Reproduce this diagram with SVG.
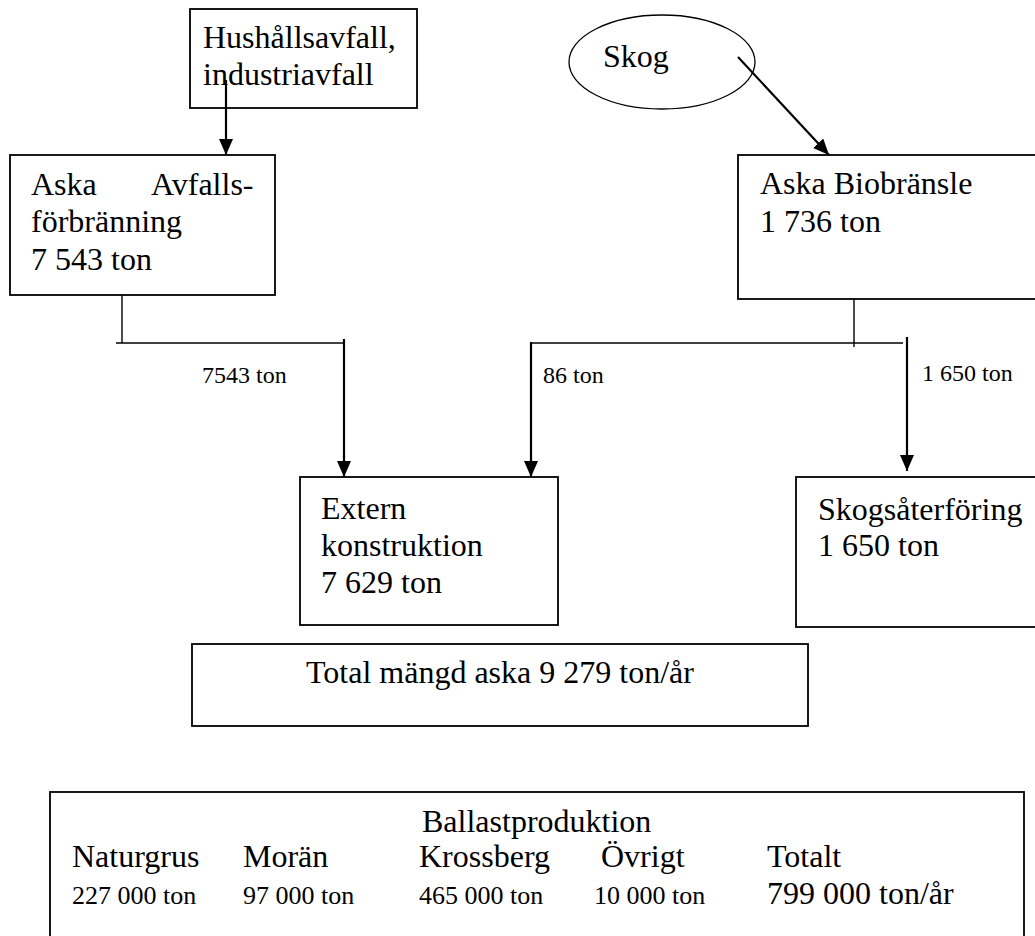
<svg xmlns="http://www.w3.org/2000/svg" width="1035" height="936" viewBox="0 0 1035 936">
<style>
.box{fill:#fff;stroke:#000;stroke-width:1.8}
.ell{fill:#fff;stroke:#000;stroke-width:1.3}
.t{font-family:"Liberation Serif","Times New Roman",serif;font-size:32px;fill:#000}
.lbl{font-family:"Liberation Serif","Times New Roman",serif;font-size:24px;fill:#000}
.val{font-family:"Liberation Serif","Times New Roman",serif;font-size:26px;fill:#000}
.ln{stroke:#000;stroke-width:1.4;fill:none}
.ar{stroke:#000;stroke-width:2.2;fill:none;marker-end:url(#ah)}
</style>
<defs>
<marker id="ah" viewBox="0 0 16 14" markerWidth="16" markerHeight="14" refX="16" refY="7" orient="auto" markerUnits="userSpaceOnUse">
<path d="M0,0 L16,7 L0,14 z" fill="#000"/>
</marker>
</defs>
<rect width="1035" height="936" fill="#fff"/>
<g id="hushall">
<rect class="box" x="190" y="9" width="227" height="99"/>
<text class="t" x="203" y="48">Hushållsavfall,</text>
<text class="t" x="203" y="85">industriavfall</text>
</g>
<g id="skog">
<ellipse class="ell" cx="662" cy="62" rx="93" ry="47"/>
<text class="t" x="603" y="67">Skog</text>
</g>
<g id="aska-avfall">
<rect class="box" x="10" y="155" width="265" height="140"/>
<text class="t" y="195"><tspan x="31">Aska</tspan> <tspan x="151">Avfalls-</tspan></text>
<text class="t" x="31" y="232">förbränning</text>
<text class="t" x="31" y="270">7 543 ton</text>
</g>
<g id="aska-bio">
<rect class="box" x="738" y="155" width="310" height="144"/>
<text class="t" x="760" y="194">Aska Biobränsle</text>
<text class="t" x="760" y="232">1 736 ton</text>
</g>
<g id="extern">
<rect class="box" x="300" y="477" width="258" height="148"/>
<text class="t" x="321" y="519">Extern</text>
<text class="t" x="321" y="556">konstruktion</text>
<text class="t" x="321" y="593">7 629 ton</text>
</g>
<g id="skogsaterforing">
<rect class="box" x="796" y="477" width="250" height="150"/>
<text class="t" x="818" y="520">Skogsåterföring</text>
<text class="t" x="818" y="556">1 650 ton</text>
</g>
<g id="total">
<rect class="box" x="192" y="644" width="616" height="82"/>
<text class="t" x="306" y="683">Total mängd aska 9 279 ton/år</text>
</g>
<g id="ballast">
<rect class="box" x="50" y="792" width="974" height="160"/>
<text class="t" x="422" y="832">Ballastproduktion</text>
<text class="t" x="72" y="867">Naturgrus</text>
<text class="t" x="243" y="867">Morän</text>
<text class="t" x="419" y="867">Krossberg</text>
<text class="t" x="601" y="867">Övrigt</text>
<text class="t" x="767" y="867">Totalt</text>
<text class="val" x="72" y="904">227 000 ton</text>
<text class="val" x="243" y="904">97 000 ton</text>
<text class="val" x="419" y="904">465 000 ton</text>
<text class="val" x="594" y="904">10 000 ton</text>
<text class="t" x="767" y="904">799 000 ton/år</text>
</g>
<g id="connectors">
<line class="ar" x1="226" y1="80" x2="226" y2="155"/>
<line class="ar" x1="738" y1="57" x2="829" y2="155"/>
<line class="ln" x1="122" y1="295" x2="122" y2="343"/>
<line class="ln" x1="116" y1="343" x2="344" y2="343"/>
<line class="ar" x1="344" y1="339" x2="344" y2="477"/>
<line class="ln" x1="854" y1="299" x2="854" y2="347"/>
<line class="ln" x1="531" y1="343" x2="903" y2="343"/>
<line class="ar" x1="531" y1="342" x2="531" y2="477"/>
<line class="ar" x1="907" y1="337" x2="907" y2="471"/>
<text class="lbl" x="202" y="383">7543 ton</text>
<text class="lbl" x="543" y="383">86 ton</text>
<text class="lbl" x="922" y="381">1 650 ton</text>
</g>
</svg>
